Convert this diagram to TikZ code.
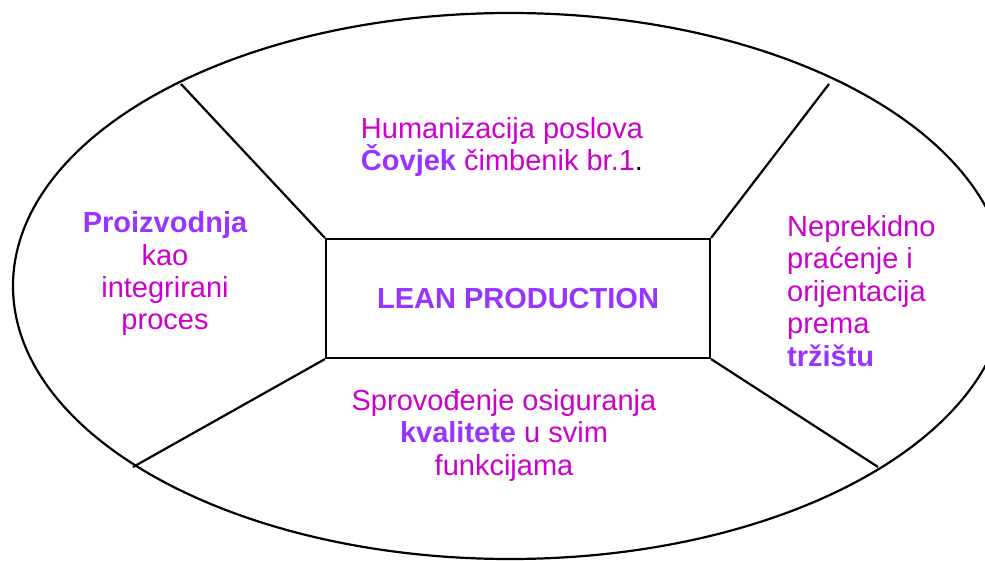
\documentclass[tikz,border=0pt]{standalone}
\usepackage{fontspec}
\setmainfont{Liberation Sans}
\definecolor{mag}{RGB}{204,0,204}
\definecolor{pur}{RGB}{153,51,255}
\newcommand{\hl}[1]{{\bfseries\color{pur}#1}}
\begin{document}
\begin{tikzpicture}[x=1pt,y=-1pt,
  line/.style={line width=2.2pt,black},
  txt/.style={inner sep=0pt,text=mag,font=\fontsize{29}{32.5}\selectfont}]
\useasboundingbox (0,0) rectangle (985,561);
\clip (0,0) rectangle (985,561);
\draw[line] (510,286) ellipse [x radius=497, y radius=273];
\node[line,draw,minimum width=384pt,minimum height=119pt,inner sep=0pt] (lean) at (518,298.5)
  {\fontsize{29}{32}\selectfont\hl{LEAN PRODUCTION}};
\coordinate (etl) at (181,84);
\coordinate (etr) at (829,84);
\coordinate (ebl) at (133,467);
\coordinate (ebr) at (878,467);
\draw[line] (lean.north west) -- (etl);
\draw[line] (lean.north east) -- (etr);
\draw[line] (lean.south west) -- (ebl);
\draw[line] (lean.south east) -- (ebr);
\node[txt,align=center,anchor=base] (top) at (502,171)
  {Humanizacija poslova\\ \hl{Čovjek} čimbenik br.1{\color{black}.}};
\node[txt,align=center,anchor=base] (left) at (165,330)
  {\hl{Proizvodnja}\\ kao\\ integrirani\\ proces};
\node[txt,align=left,anchor=base west] (right) at (787,366)
  {Neprekidno\\ praćenje i\\ orijentacija\\ prema\\ \hl{tržištu}};
\node[txt,align=center,anchor=base] (bottom) at (504,475)
  {Sprovođenje osiguranja\\ \hl{kvalitete} u svim\\ funkcijama};
\end{tikzpicture}
\end{document}
